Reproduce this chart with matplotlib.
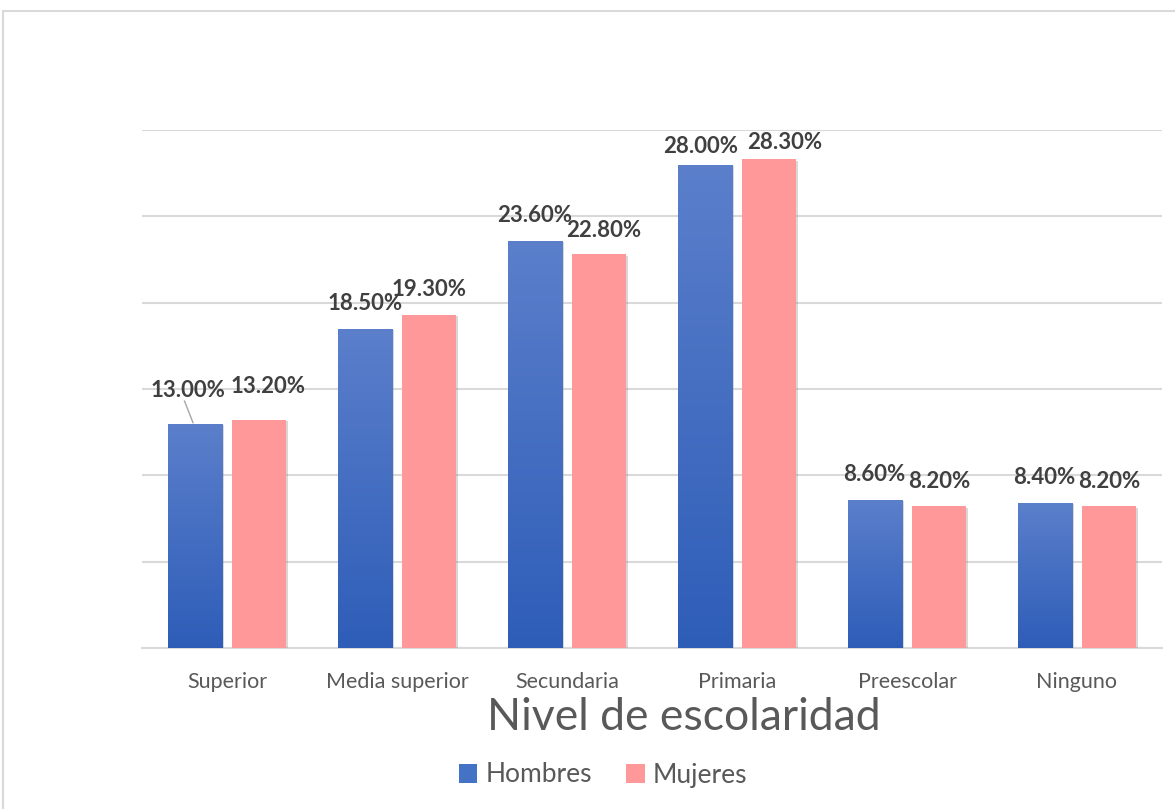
import numpy as np
import matplotlib.pyplot as plt
from matplotlib.patches import Rectangle, Patch
import matplotlib.patheffects as pe
from matplotlib.colors import LinearSegmentedColormap

categorias = ["Superior", "Media superior", "Secundaria", "Primaria", "Preescolar", "Ninguno"]
hombres = [13.0, 18.5, 23.6, 28.0, 8.6, 8.4]
mujeres = [13.2, 19.3, 22.8, 28.3, 8.2, 8.2]
yticks = [0, 5, 10, 15, 20, 25, 30]

# ajustes manuales de etiquetas (puntos) como en el original de Excel
desp_h = {0: (-5, 24), 3: (-3, 13)}
desp_m = {0: (6, 24), 2: (3, 17), 3: (11, 12)}

plt.rcParams['font.family'] = ['Lato', 'DejaVu Sans']

fig = plt.figure(figsize=(11.75, 8.09), dpi=100)
ax = fig.add_axes([142/1175, 161/809, 1020/1175, 518/809])

# marco del grafico
fig.patches.append(Rectangle((3/1175, -0.2), 1.2, 0.2 + 798/809, transform=fig.transFigure,
                             fill=False, edgecolor='#D9D9D9', linewidth=1.5))

x = np.arange(len(categorias))
w = 0.318
off = 0.19

sombra = [pe.SimplePatchShadow(offset=(1.5, -1.0), shadow_rgbFace='#808080', alpha=0.3), pe.Normal()]
bh = ax.bar(x - off, hombres, w, color='#4472C4', zorder=3, path_effects=sombra)
bm = ax.bar(x + off, mujeres, w, color='#FF9999', zorder=3, path_effects=sombra)

cmap = LinearSegmentedColormap.from_list('azul', ['#2E5DB8', '#5B7FCB'])
grad = np.linspace(0, 1, 256).reshape(-1, 1)
for r in bh:
    x0, y0 = r.get_x(), r.get_y()
    im = ax.imshow(grad, cmap=cmap, origin='lower', aspect='auto', zorder=3.5,
                   extent=[x0, x0 + r.get_width(), y0, y0 + r.get_height()])
    im.set_clip_path(r)

for i, r in enumerate(bh):
    dx, dy = desp_h.get(i, (0, 18))
    ax.annotate(f"{hombres[i]:.2f}%", xy=(r.get_x() + r.get_width()/2, r.get_height()),
                xytext=(dx, dy), textcoords='offset points', ha='center', va='center',
                fontsize=16, fontweight='bold', color='#404040', zorder=5)
for i, r in enumerate(bm):
    dx, dy = desp_m.get(i, (0, 18))
    ax.annotate(f"{mujeres[i]:.2f}%", xy=(r.get_x() + r.get_width()/2, r.get_height()),
                xytext=(dx, dy), textcoords='offset points', ha='center', va='center',
                fontsize=16, fontweight='bold', color='#404040', zorder=5)

# linea guia de la primera etiqueta
ax.plot([x[0] - off - 0.01, x[0] - off - 0.06], [13.05, 14.3], color='#A6A6A6', lw=1, zorder=4)

ax.set_xlim(-0.5, len(categorias) - 0.5)
ax.set_ylim(0, 30)
ax.set_yticks(yticks)
ax.set_yticklabels([])
ax.yaxis.grid(True, color='#D9D9D9', linewidth=1.5, zorder=0)
ax.set_axisbelow(True)
ax.tick_params(axis='y', length=0)
ax.set_xticks(x)
ax.set_xticklabels(categorias, fontsize=15.5, color='#595959')
ax.tick_params(axis='x', length=0, pad=17)
for s in ['top', 'right', 'left']:
    ax.spines[s].set_visible(False)
ax.spines['bottom'].set_color('#D9D9D9')
ax.spines['bottom'].set_linewidth(1.5)

# titulo del eje, algo desplazado a la derecha como en el original
fig.text(684/1175, 1 - 718/809, "Nivel de escolaridad", fontsize=32, color='#595959',
         ha='center', va='center')

handles = [Patch(facecolor='#4472C4', label='Hombres'), Patch(facecolor='#FF9999', label='Mujeres')]
fig.legend(handles=handles, loc='center', bbox_to_anchor=(603/1175, 1 - 775/809), ncol=2,
           frameon=False, fontsize=19, labelcolor='#595959', handlelength=0.7, handleheight=0.7,
           handletextpad=0.3, columnspacing=1.3)

fig.savefig('out.png', dpi=100, facecolor='white')
